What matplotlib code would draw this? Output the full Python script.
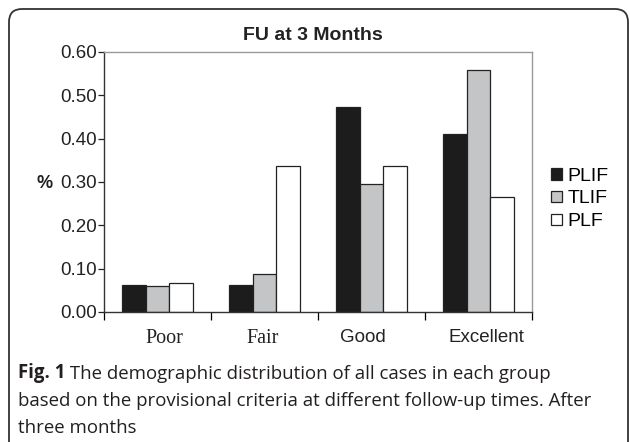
import numpy as np
import matplotlib
matplotlib.use('Agg')
import matplotlib.pyplot as plt
import matplotlib.transforms as mtransforms
from matplotlib.patches import FancyBboxPatch

# datos
categorias = ['Poor', 'Fair', 'Good', 'Excellent']
plif = [0.063, 0.063, 0.473, 0.410]
tlif = [0.059, 0.088, 0.295, 0.558]
plf = [0.068, 0.336, 0.336, 0.266]
series = ['PLIF', 'TLIF', 'PLF']
y_ticks = [0.0, 0.1, 0.2, 0.3, 0.4, 0.5, 0.6]
# las etiquetas del eje x no estan centradas en el original
desplaz_etiquetas = [0.065, -0.02, -0.085, 0.075]

plt.rcParams['font.family'] = ['Liberation Sans', 'DejaVu Sans']

fig = plt.figure(figsize=(6.3, 4.42), dpi=100)
W, H = 630, 442

# marco redondeado (cortado abajo), en pixeles
marco = FancyBboxPatch((9, -40), 628 - 9, H - 9 + 40,
                       boxstyle='round,pad=0,rounding_size=13',
                       transform=mtransforms.IdentityTransform(), fill=False,
                       edgecolor='#333333', linewidth=1.3)
fig.patches.append(marco)

ax = fig.add_axes([104 / W, 1 - 312 / H, (532 - 104) / W, (312 - 52) / H])

x = np.arange(len(categorias))
ancho = 0.224
colores = ['#1c1c1c', '#c4c5c7', 'white']
for i, (nombre, vals) in enumerate(zip(series, [plif, tlif, plf])):
    ax.bar(x + (i - 1) * ancho, vals, ancho, color=colores[i],
           edgecolor='#222222', linewidth=0.9, label=nombre, zorder=2)

ax.set_xlim(-0.5, len(categorias) - 0.5)
ax.set_ylim(0, 0.6)
ax.set_yticks(y_ticks)
ax.set_yticklabels([f'{v:.2f}' for v in y_ticks], fontsize=13.5)
ax.tick_params(axis='y', direction='out', length=4, width=0.9, pad=1, colors='#222222')

ax.set_xticks(x + np.array(desplaz_etiquetas))
ax.set_xticklabels(categorias)
ax.set_xticks(np.arange(-0.5, len(categorias)), minor=True)
ax.tick_params(axis='x', which='major', length=0, pad=12)
ax.tick_params(axis='x', which='minor', direction='out', length=6, width=0.9)
for lab in ax.get_xticklabels():
    if lab.get_text() in ('Poor', 'Fair'):
        lab.set_family('Liberation Serif')
        lab.set_fontsize(14.5)
    else:
        lab.set_fontsize(13.5)
    lab.set_color('#222222')

for s in ['left', 'bottom']:
    ax.spines[s].set_color('#333333')
    ax.spines[s].set_linewidth(1.0)
for s in ['top', 'right']:
    ax.spines[s].set_color('#999999')
    ax.spines[s].set_linewidth(1.0)

fig.text(313 / W, 1 - 35 / H, 'FU at 3 Months', ha='center', va='center',
         fontsize=14, fontweight='bold', color='#222222')
fig.text(45 / W, 1 - 183 / H, '%', ha='center', va='center',
         fontsize=13, fontweight='bold', color='#222222')

ax.legend(loc='center left', bbox_to_anchor=(551 / W, 1 - 199 / H),
          bbox_transform=fig.transFigure, frameon=False, fontsize=14,
          handlelength=0.55, handleheight=0.55, handletextpad=0.3,
          labelspacing=0.3, borderpad=0, borderaxespad=0)

# pie de figura
fs = 13.4
t1 = fig.text(18 / W, 1 - 373 / H, 'Fig. 1', fontfamily='Open Sans', fontweight='bold',
              fontsize=fs, color='#231f20', va='center')
ax.annotate(' The demographic distribution of all cases in each group',
            xy=(1, 0), xycoords=t1, va='bottom', ha='left',
            fontfamily='Open Sans', fontsize=fs, color='#231f20')
fig.text(18 / W, 1 - 401 / H,
         'based on the provisional criteria at different follow-up times. After',
         fontfamily='Open Sans', fontsize=fs, color='#231f20', va='center')
fig.text(18 / W, 1 - 428 / H, 'three months',
         fontfamily='Open Sans', fontsize=fs, color='#231f20', va='center')

plt.savefig('out.png', dpi=100)
